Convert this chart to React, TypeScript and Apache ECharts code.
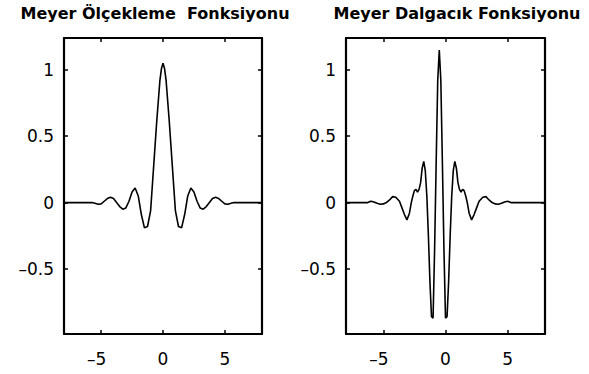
import React, { useEffect, useRef } from "react";
import * as echarts from "echarts";

const TITLES = ["Meyer Ölçekleme  Fonksiyonu", "Meyer Dalgacık Fonksiyonu"];
const X_TICKS = [-5, 0, 5];
const Y_TICKS = [-0.5, 0, 0.5, 1];

// Meyer scaling function (left panel)
const PHI_X = [-8, -6, -5.75, -5.5, -5.25, -5, -4.75, -4.5, -4.25, -4, -3.75, -3.5, -3.25, -3, -2.75, -2.5, -2.25, -2, -1.75, -1.5, -1.25, -1, -0.75, -0.5, -0.25, -0.125, 0, 0.125, 0.25, 0.5, 0.75, 1, 1.25, 1.5, 1.75, 2, 2.25, 2.5, 2.75, 3, 3.25, 3.5, 3.75, 4, 4.25, 4.5, 4.75, 5, 5.25, 5.5, 5.75, 6, 8];
const PHI_Y = [0, 0, 0, -0.005, -0.012, -0.01, 0.01, 0.03, 0.04, 0.03, 0, -0.03, -0.05, -0.04, 0.01, 0.08, 0.11, 0.05, -0.09, -0.19, -0.18, -0.06, 0.28, 0.62, 0.92, 1.01, 1.05, 1.01, 0.92, 0.62, 0.28, -0.06, -0.18, -0.19, -0.09, 0.05, 0.11, 0.08, 0.01, -0.04, -0.05, -0.03, 0, 0.03, 0.04, 0.03, 0.01, -0.01, -0.012, -0.005, 0, 0, 0];

// Meyer wavelet function (right panel)
const PSI_X = [-8, -6.5, -6.25, -6, -5.75, -5.5, -5.25, -5, -4.75, -4.5, -4.25, -4, -3.7, -3.5, -3.3, -3.1, -2.9, -2.75, -2.625, -2.5, -2.375, -2.25, -2.125, -2, -1.875, -1.75, -1.625, -1.5, -1.375, -1.25, -1.125, -1, -0.875, -0.75, -0.625, -0.5,
  -0.375, -0.25, -0.125, 0, 0.125, 0.25, 0.375, 0.5, 0.625, 0.75, 0.875, 1, 1.125, 1.25, 1.375, 1.5, 1.625, 1.75, 1.9, 2.1, 2.3, 2.5, 2.7, 3, 3.25, 3.5, 3.75, 4, 4.25, 4.5, 4.75, 5, 5.25, 5.5, 8];
const PSI_Y = [0, 0, 0, 0.01, 0.005, -0.005, -0.012, -0.01, 0, 0.02, 0.045, 0.04, 0.01, -0.04, -0.09, -0.13, -0.08, 0, 0.05, 0.09, 0.1, 0.08, 0.1, 0.15, 0.26, 0.31, 0.24, 0.05, -0.25, -0.6, -0.86, -0.87, -0.35, 0.3, 0.92, 1.15,
  0.92, 0.3, -0.35, -0.87, -0.86, -0.6, -0.25, 0.05, 0.24, 0.31, 0.26, 0.15, 0.1, 0.08, 0.1, 0.09, 0.05, 0, -0.08, -0.13, -0.09, -0.04, 0.01, 0.04, 0.045, 0.02, 0, -0.01, -0.012, -0.005, 0.005, 0.01, 0, 0, 0];

const X_MIN = -8;
const X_MAX = 8;
const Y_MIN = -0.99;
const Y_MAX = 1.24;

const FONT = "DejaVu Sans";

export default function App() {
  const ref = useRef<HTMLDivElement>(null);

  useEffect(() => {
    if (!ref.current) return;
    const chart = echarts.init(ref.current, undefined, { renderer: "svg" });

    const grids = [
      { left: 64, top: 38, width: 198, height: 296 },
      { left: 346, top: 38, width: 199, height: 296 },
    ];
    const titleCenters = [150, 452];

    const fmtX = (v: number) => (v < 0 ? `{neg|–${Math.abs(v)}}` : `${v}`);
    const fmtY = (v: number) => (v < 0 ? `–${Math.abs(v)}` : `${v}`);

    const xAxes: any[] = [];
    const yAxes: any[] = [];
    grids.forEach((_, i) => {
      xAxes.push({
        type: "value",
        gridIndex: i,
        min: X_MIN,
        max: X_MAX,
        position: "bottom",
        axisLine: { show: true, onZero: false, lineStyle: { color: "#000", width: 2.2 } },
        axisTick: { show: true, inside: true, length: 4, customValues: X_TICKS, lineStyle: { color: "#000", width: 1.5 } },
        axisLabel: {
          show: true,
          customValues: X_TICKS,
          formatter: fmtX,
          margin: 16,
          color: "#000",
          fontFamily: FONT,
          fontSize: 17,
          rich: { neg: { fontFamily: FONT, fontSize: 17, color: "#000", padding: [0, 9, 0, 0] } },
        },
        splitLine: { show: false },
      });
      xAxes.push({
        type: "value",
        gridIndex: i,
        min: X_MIN,
        max: X_MAX,
        position: "top",
        axisLine: { show: true, onZero: false, lineStyle: { color: "#000", width: 2.2 } },
        axisTick: { show: true, inside: true, length: 4, customValues: X_TICKS, lineStyle: { color: "#000", width: 1.5 } },
        axisLabel: { show: false },
        splitLine: { show: false },
      });
      yAxes.push({
        type: "value",
        gridIndex: i,
        min: Y_MIN,
        max: Y_MAX,
        position: "left",
        axisLine: { show: true, onZero: false, lineStyle: { color: "#000", width: 2.2 } },
        axisTick: { show: true, inside: true, length: 4, customValues: Y_TICKS, lineStyle: { color: "#000", width: 1.5 } },
        axisLabel: {
          show: true,
          customValues: Y_TICKS,
          formatter: fmtY,
          margin: 10,
          color: "#000",
          fontFamily: FONT,
          fontSize: 17,
        },
        splitLine: { show: false },
      });
      yAxes.push({
        type: "value",
        gridIndex: i,
        min: Y_MIN,
        max: Y_MAX,
        position: "right",
        axisLine: { show: true, onZero: false, lineStyle: { color: "#000", width: 2.2 } },
        axisTick: { show: true, inside: true, length: 4, customValues: Y_TICKS, lineStyle: { color: "#000", width: 1.5 } },
        axisLabel: { show: false },
        splitLine: { show: false },
      });
    });

    const seriesData = [
      PHI_X.map((x, k) => [x, PHI_Y[k]]),
      PSI_X.map((x, k) => [x, PSI_Y[k]]),
    ];

    chart.setOption({
      animation: false,
      backgroundColor: "#fff",
      title: TITLES.map((t, i) => ({
        text: t,
        left: titleCenters[i],
        top: 0,
        textAlign: "center",
        textStyle: { fontFamily: FONT, fontWeight: "bold", fontSize: 16, color: "#000" },
      })),
      grid: grids,
      xAxis: xAxes,
      yAxis: yAxes,
      series: seriesData.map((d, i) => ({
        type: "line",
        xAxisIndex: i * 2,
        yAxisIndex: i * 2,
        data: d,
        showSymbol: false,
        symbol: "none",
        lineStyle: { color: "#000", width: 1.6 },
        clip: true,
      })),
    });

    return () => chart.dispose();
  }, []);

  return (
    <div
      ref={ref}
      style={{ position: "fixed", left: 0, top: 0, width: 589, height: 374, background: "#fff" }}
    />
  );
}
